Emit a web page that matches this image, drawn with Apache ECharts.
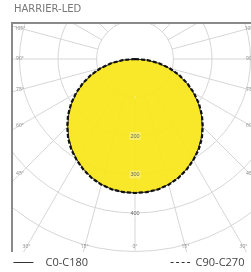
<!DOCTYPE html>
<html>
<head>
<meta charset="utf-8">
<script src="https://cdn.jsdelivr.net/npm/echarts@6/dist/echarts.min.js"></script>
<style>
  html, body { margin: 0; padding: 0; background: #fff; }
  #chart { width: 251px; height: 272px; }
</style>
</head>
<body>
<div id="chart"></div>
<script>
// gamma angles (deg), 0 = straight down
const gammaDeg = [-90, -85, -80, -75, -70, -65, -60, -55, -50, -45, -40, -35, -30, -25, -20, -15, -10, -5,
  0, 5, 10, 15, 20, 25, 30, 35, 40, 45, 50, 55, 60, 65, 70, 75, 80, 85, 90]
// luminous intensity (cd)
const c0c180 = [0, 31, 61, 91, 120, 148, 175, 201, 225, 247, 268, 286, 302, 316, 328, 337, 344, 347,
  348, 347, 344, 337, 328, 316, 302, 286, 268, 247, 225, 201, 175, 148, 120, 91, 61, 31, 0]
const c90c270 = [0, 32, 63, 93, 122, 150, 177, 203, 227, 249, 270, 288, 303, 317, 329, 338, 344, 347,
  348, 347, 344, 338, 329, 317, 303, 288, 270, 249, 227, 203, 177, 150, 122, 93, 63, 32, 0]
const radiusLabels = [200, 300, 400]
const angleLabels = [105, 90, 75, 60, 45, 30, 15]

const cx = 135, cy = 59
const rMax = 231

// angle labels sit where the spokes meet the frame
const labelEls = []
const placeLabel = (a, side) => {
  const rad = a * Math.PI / 180
  const s = Math.sin(rad), c = Math.cos(rad)
  const edgeX = side < 0 ? 20 : 250
  let x = edgeX
  let y = cy + (Math.abs(edgeX - cx) / s) * c
  if (y > 247) {
    y = 247
    x = cx + side * ((247 - cy) / c) * s
  }
  labelEls.push({
    type: 'text', z: 20, x: x, y: y,
    style: { text: a + '°', fontSize: 5, fill: '#888', align: 'center', verticalAlign: 'middle', fontFamily: 'Open Sans' }
  })
}
angleLabels.forEach(a => { placeLabel(a, -1); placeLabel(a, 1) })
labelEls.push({
  type: 'text', z: 20, x: cx, y: 247,
  style: { text: '0°', fontSize: 5, fill: '#888', align: 'center', verticalAlign: 'middle', fontFamily: 'Open Sans' }
})

const legendText = { fontSize: 11, color: '#444', fontFamily: 'Open Sans' }

const chart = echarts.init(document.getElementById('chart'))
chart.setOption({
  animation: false,
  polar: [
    { center: [cx, cy], radius: [38.5, rMax] },
    { center: [cx, cy], radius: [0, rMax] }
  ],
  angleAxis: [
    {
      polarIndex: 0, type: 'value', min: 0, max: 360, interval: 15, startAngle: 270,
      axisLine: { show: false }, axisTick: { show: false }, axisLabel: { show: false },
      splitLine: { lineStyle: { color: '#d6d6d6', width: 1 } }
    },
    {
      polarIndex: 1, type: 'value', min: -180, max: 180, startAngle: 90,
      axisLine: { show: false }, axisTick: { show: false }, axisLabel: { show: false },
      splitLine: { show: false }
    }
  ],
  radiusAxis: [
    {
      polarIndex: 0, type: 'value', min: 100, max: 600, interval: 100,
      axisLine: { show: false }, axisTick: { show: false }, splitLine: { show: false },
      z: 10,
      axisLabel: {
        formatter: v => radiusLabels.includes(v) ? String(v) : '',
        fontSize: 5.5, color: '#666', align: 'center', margin: 0,
        backgroundColor: 'rgba(255,255,255,0.3)', padding: [1, 1]
      }
    },
    {
      polarIndex: 1, type: 'value', min: 0, max: 600, interval: 100,
      axisLine: { show: false }, axisTick: { show: false }, axisLabel: { show: false },
      splitLine: { lineStyle: { color: '#d6d6d6', width: 1 } }
    }
  ],
  legend: [
    {
      left: 13, top: 257, z: 10, padding: 0, data: ['C0-C180'],
      itemWidth: 20, itemHeight: 8,
      itemStyle: { color: 'transparent', borderWidth: 0 },
      lineStyle: { width: 1, color: '#333' },
      textStyle: Object.assign({ padding: [0, 0, 0, 7] }, legendText)
    },
    {
      left: 170, top: 257, z: 10, padding: 0, data: ['C90-C270'],
      itemWidth: 20, itemHeight: 8,
      itemStyle: { color: 'transparent', borderWidth: 0 },
      lineStyle: { width: 1.2, color: '#333', type: [3, 2.5] },
      textStyle: legendText
    }
  ],
  graphic: [
    { type: 'rect', z: 5, shape: { x: 0, y: 0, width: 251, height: 22 }, style: { fill: '#fff' } },
    { type: 'rect', z: 5, shape: { x: 0, y: 0, width: 11, height: 272 }, style: { fill: '#fff' } },
    { type: 'rect', z: 5, shape: { x: 0, y: 252, width: 251, height: 20 }, style: { fill: '#fff' } },
    { type: 'line', z: 20, shape: { x1: 12, y1: 22, x2: 12, y2: 252 }, style: { stroke: '#8a8a8a', lineWidth: 2 } },
    { type: 'line', z: 20, shape: { x1: 11, y1: 23, x2: 251, y2: 23 }, style: { stroke: '#8a8a8a', lineWidth: 2 } },
    {
      type: 'text', z: 20, x: 14, y: 4,
      style: { text: 'HARRIER-LED', fontSize: 10, fill: '#777', fontFamily: 'DejaVu Sans' }
    },
    ...labelEls
  ],
  series: [
    {
      name: 'C0-C180', type: 'line', coordinateSystem: 'polar', polarIndex: 1,
      data: gammaDeg.map((g, i) => [c0c180[i], g]),
      symbol: 'none', z: 2, color: '#222',
      lineStyle: { color: '#222', width: 1 },
      areaStyle: { color: '#f9e61c', opacity: 0.94 }
    },
    {
      name: 'C90-C270', type: 'line', coordinateSystem: 'polar', polarIndex: 1,
      data: gammaDeg.map((g, i) => [c90c270[i], g]),
      symbol: 'none', z: 3, color: '#111',
      lineStyle: { color: '#111', width: 2.2, type: [4, 2] }
    }
  ]
})
</script>
</body>
</html>
